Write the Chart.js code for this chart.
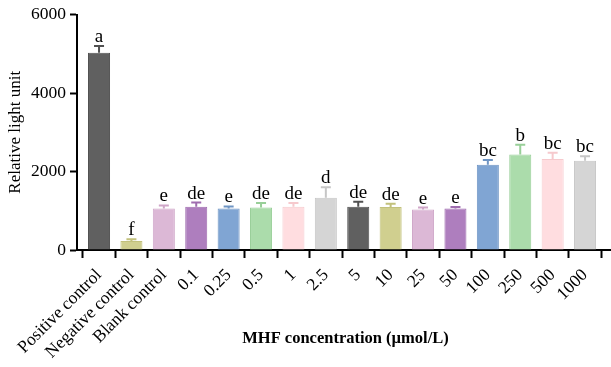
<!DOCTYPE html>
<html>
<head>
<meta charset="utf-8">
<script src="https://cdn.jsdelivr.net/npm/chart.js@4"></script>
<style>
  html, body { margin: 0; padding: 0; background: #fff; }
  #wrap { width: 611px; height: 367px; }
</style>
</head>
<body>
<div id="wrap"><canvas id="rlu"></canvas></div>
<script>
const groups = ['Positive control', 'Negative control', 'Blank control', '0.1', '0.25', '0.5', '1', '2.5',
  '5', '10', '25', '50', '100', '250', '500', '1000'];
const means = [5025, 230, 1060, 1100, 1060, 1085, 1100, 1330, 1100, 1095, 1030, 1055, 2175, 2430, 2320, 2275];
const errs = [175, 45, 75, 110, 50, 110, 95, 270, 130, 85, 50, 40, 115, 250, 160, 115];
const letters = ['a', 'f', 'e', 'de', 'e', 'de', 'de', 'd', 'de', 'de', 'e', 'e', 'bc', 'b', 'bc', 'bc'];
const yTicks = [0, 2000, 4000, 6000];

const fills = ['#606060', '#d0cf8f', '#dcb8d6', '#ae7ebe', '#80a5d3', '#abdcab', '#ffdde0', '#d5d5d5',
  '#606060', '#d0cf8f', '#dcb8d6', '#ae7ebe', '#80a5d3', '#abdcab', '#ffdde0', '#d5d5d5'];
const edges = ['#505050', '#c2c17c', '#cfa6c8', '#9f6caf', '#6f95c4', '#98cf98', '#f6c9cd', '#c6c6c6',
  '#505050', '#c2c17c', '#cfa6c8', '#9f6caf', '#6f95c4', '#98cf98', '#f6c9cd', '#c6c6c6'];

const SERIF = "'Liberation Serif','Times New Roman',serif";

// error bars (upper half only) + significance letters
const errPlugin = {
  id: 'errPlugin',
  afterDatasetsDraw(chart) {
    const { ctx, scales: { x, y } } = chart;
    ctx.save();
    ctx.lineWidth = 2;
    means.forEach((m, i) => {
      const px = x.getPixelForValue(i);
      const top = y.getPixelForValue(m);
      const hi = y.getPixelForValue(m + errs[i]);
      ctx.strokeStyle = edges[i];
      ctx.beginPath();
      ctx.moveTo(px, top);
      ctx.lineTo(px, hi);
      ctx.moveTo(px - 5, hi);
      ctx.lineTo(px + 5, hi);
      ctx.stroke();
      ctx.fillStyle = '#000';
      ctx.font = '19px ' + SERIF;
      ctx.textAlign = 'center';
      ctx.textBaseline = 'alphabetic';
      ctx.fillText(letters[i], px, hi - 4);
    });
    ctx.restore();
  },
  afterDraw(chart) {
    const { ctx, chartArea } = chart;
    ctx.save();
    ctx.fillStyle = '#000';
    ctx.font = 'bold 16.5px ' + SERIF;
    ctx.textAlign = 'center';
    ctx.textBaseline = 'middle';
    ctx.fillText('MHF concentration (\u00b5mol/L)', (chartArea.left + chartArea.right) / 2 + 2, chartArea.bottom + 89);
    ctx.restore();
  },
};

new Chart(document.getElementById('rlu').getContext('2d'), {
  type: 'bar',
  data: {
    datasets: [{
      data: means.map((v, i) => ({ x: i, y: v })),
      backgroundColor: fills,
      borderColor: edges,
      borderWidth: 1,
      barPercentage: 0.68,
      categoryPercentage: 1,
    }],
  },
  options: {
    responsive: true,
    maintainAspectRatio: false,
    animation: false,
    layout: { padding: { top: 9, right: 1, left: 0, bottom: 0 } },
    plugins: { legend: { display: false }, tooltip: { enabled: false } },
    scales: {
      x: {
        type: 'linear',
        min: -0.68,
        max: 15.77,
        offset: false,
        afterBuildTicks: (s) => { s.ticks = groups.map((_, i) => ({ value: i })); },
        afterFit: (s) => { s.height = 117; },
        ticks: {
          autoSkip: false,
          minRotation: 45,
          maxRotation: 45,
          padding: 7,
          color: '#000',
          font: { family: SERIF, size: 17.5 },
          callback: (v) => groups[v],
        },
        grid: { drawOnChartArea: false, tickLength: 8, tickWidth: 2, tickColor: '#000' },
        border: { color: '#000', width: 2 },
      },
      y: {
        min: 0,
        max: 6000,
        afterBuildTicks: (s) => { s.ticks = yTicks.map((v) => ({ value: v })); },
        afterFit: (s) => { s.width = 77; },
        ticks: {
          padding: 4,
          color: '#000',
          font: { family: SERIF, size: 17.5 },
          callback: (v) => String(v),
        },
        title: {
          display: true,
          text: 'Relative light unit',
          color: '#000',
          font: { family: SERIF, size: 17 },
          padding: { top: 5, bottom: 0 },
        },
        grid: { drawOnChartArea: false, tickLength: 7, tickWidth: 2, tickColor: '#000' },
        border: { color: '#000', width: 2 },
      },
    },
  },
  plugins: [errPlugin],
});
</script>
</body>
</html>
